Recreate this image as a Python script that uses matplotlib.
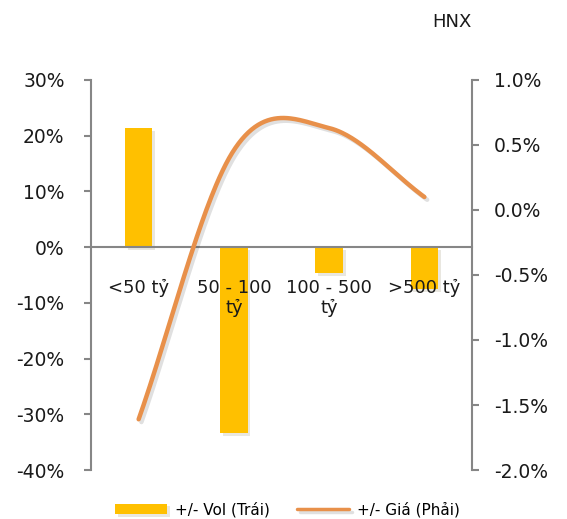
import matplotlib
matplotlib.use("Agg")
import matplotlib.pyplot as plt
import matplotlib.patheffects as pe
import numpy as np
from matplotlib.ticker import FuncFormatter

# du lieu doc tu bieu do
categories = ["<50 tỷ", "50 - 100\ntỷ", "100 - 500\ntỷ", ">500 tỷ"]
vol_change = [21.4, -33.4, -4.7, -7.5]       # % (truc trai)
price_change = [-1.61, 0.46, 0.63, 0.10]     # % (truc phai)

BAR_COLOR = "#FFC000"
LINE_COLOR = "#E8904A"
AXIS_COLOR = "#868686"


def smooth(xs, ys, n=60):
    # duong cong kieu Catmull-Rom giong "smoothed line" cua Excel
    xs = np.asarray(xs, float)
    ys = np.asarray(ys, float)
    px = np.concatenate([[2 * xs[0] - xs[1]], xs, [2 * xs[-1] - xs[-2]]])
    py = np.concatenate([[2 * ys[0] - ys[1]], ys, [2 * ys[-1] - ys[-2]]])
    outx, outy = [], []
    t = np.linspace(0, 1, n)
    for i in range(1, len(px) - 2):
        m1 = (py[i + 1] - py[i - 1]) / 2
        m2 = (py[i + 2] - py[i]) / 2
        h00 = 2 * t**3 - 3 * t**2 + 1
        h10 = t**3 - 2 * t**2 + t
        h01 = -2 * t**3 + 3 * t**2
        h11 = t**3 - t**2
        outy.append(h00 * py[i] + h10 * m1 + h01 * py[i + 1] + h11 * m2)
        outx.append(px[i] + t * (px[i + 1] - px[i]))
    return np.concatenate(outx), np.concatenate(outy)


plt.rcParams["font.family"] = ["DejaVu Sans"]

fig = plt.figure(figsize=(5.67, 5.19), dpi=100)
ax = fig.add_axes([0.1605, 0.0944, 0.6720, 0.7515])
ax2 = ax.twinx()
ax.set_axisbelow(False)

x = np.arange(len(categories))
shadow = [pe.SimplePatchShadow(offset=(2, -2), alpha=0.12), pe.Normal()]
bars = ax.bar(x, vol_change, width=0.29, color=BAR_COLOR, label="+/- Vol (Trái)",
              zorder=1, path_effects=shadow)

sx, sy = smooth(x, price_change)
line, = ax2.plot(sx, sy, color=LINE_COLOR, lw=3.2, solid_capstyle="round",
                 label="+/- Giá (Phải)",
                 path_effects=[pe.SimpleLineShadow(offset=(2, -2), alpha=0.12), pe.Normal()])

ax.set_xlim(-0.5, 3.5)
ax.set_ylim(-40, 30)
ax.set_yticks(np.arange(-40, 31, 10))
ax.yaxis.set_major_formatter(FuncFormatter(lambda v, p: "%d%%" % v))
ax2.set_ylim(-2.0, 1.0)
ax2.set_yticks(np.arange(-2.0, 1.01, 0.5))
ax2.yaxis.set_major_formatter(FuncFormatter(lambda v, p: "%.1f%%" % v))

for a in (ax, ax2):
    a.spines["top"].set_visible(False)
    a.spines["left"].set_color(AXIS_COLOR)
    a.spines["right"].set_color(AXIS_COLOR)
    a.spines["left"].set_linewidth(1.5)
    a.spines["right"].set_linewidth(1.5)
ax2.spines["bottom"].set_visible(False)
ax.spines["bottom"].set_position(("data", 0))
ax.spines["bottom"].set_color(AXIS_COLOR)
ax.spines["bottom"].set_linewidth(1.5)
ax.spines["right"].set_visible(False)
ax2.spines["left"].set_visible(False)

ax.set_xticks(x)
ax.set_xticklabels(categories, fontsize=13, color="#1a1a1a", linespacing=1.15)
ax.tick_params(axis="x", length=0, pad=23)
ax.tick_params(axis="y", labelsize=13.5, colors="#1a1a1a", length=5, width=1.5,
               color=AXIS_COLOR, pad=14)
ax2.tick_params(axis="y", labelsize=13.5, colors="#1a1a1a", length=5, width=1.5,
                color=AXIS_COLOR, pad=11)

fig.text(0.762, 0.957, "HNX", fontsize=13, color="#1a1a1a", va="center")

leg = fig.legend([bars, line], ["+/- Vol (Trái)", "+/- Giá (Phải)"], loc="center",
                 bbox_to_anchor=(0.507, 0.018), ncol=2, frameon=False, fontsize=11,
                 handlelength=3.4, columnspacing=1.8, handletextpad=0.5)
leg.get_lines()[0].set_linewidth(2.5) if leg.get_lines() else None

fig.savefig("out.png", dpi=100)
